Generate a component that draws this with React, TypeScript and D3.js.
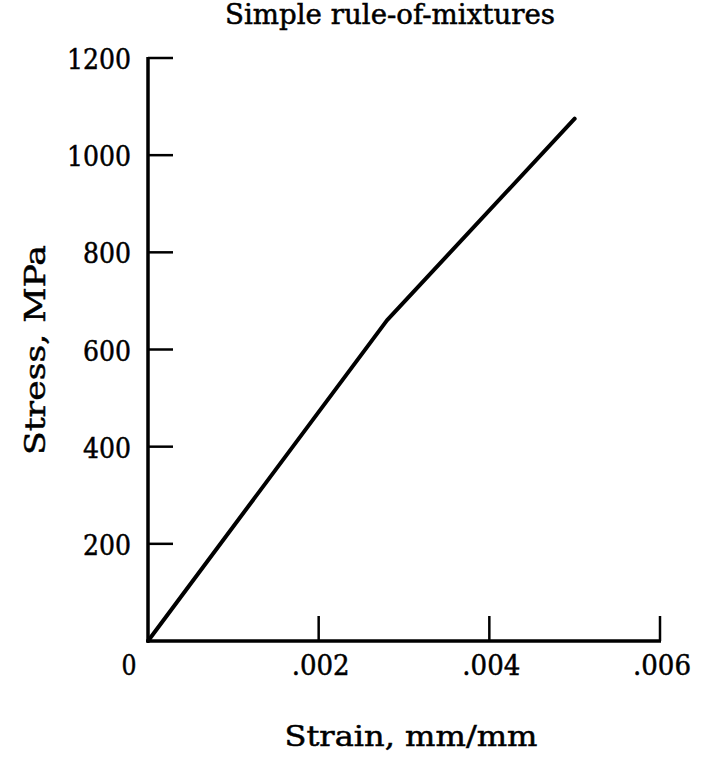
import React from "react";
import * as d3 from "d3";

const strain = [0, 0.0028, 0.005];
const stress = [0, 660, 1075];
const yTicks = [200, 400, 600, 800, 1000, 1200];
const xTicks = [0.002, 0.004, 0.006];
const xTickLabels = [".002", ".004", ".006"];
const title = "Simple rule-of-mixtures";
const xTitle = "Strain, mm/mm";
const yTitle = "Stress, MPa";

export default function App() {
  const W = 704, H = 757;
  const x = d3.scaleLinear().domain([0, 0.006]).range([148, 660]);
  const y = d3.scaleLinear().domain([0, 1200]).range([641, 58]);
  const pts: [number, number][] = strain.map((s, i) => [s, stress[i]]);
  const line = d3.line<[number, number]>().x(d => x(d[0])).y(d => y(d[1]));
  const font = "'DejaVu Serif', serif";
  const txt = { fontFamily: font, fill: "#000", stroke: "#000", strokeWidth: 0.5 } as any;
  return (
    <svg width={W} height={H} style={{ position: "absolute", left: 0, top: 0 }}>
      <rect width={W} height={H} fill="#fff" />
      <text x={390} y={24} fontSize={27} textAnchor="middle" textLength={330} lengthAdjust="spacingAndGlyphs" {...txt}>{title}</text>
      <line x1={x(0)} x2={x(0)} y1={y(1200) - 1} y2={y(0) + 1.5} stroke="#000" strokeWidth={3.5} />
      <line x1={x(0) - 1.5} x2={x(0.006) + 1} y1={y(0)} y2={y(0)} stroke="#000" strokeWidth={3.5} />
      {yTicks.map(t => {
        const s = String(t);
        return (
          <g key={t}>
            <line x1={x(0)} x2={x(0) + 25} y1={y(t)} y2={y(t)} stroke="#000" strokeWidth={2.5} />
            <text x={131} y={y(t) + 11} fontSize={28} textAnchor="end" textLength={s.length * 16} lengthAdjust="spacingAndGlyphs" {...txt}>{s}</text>
          </g>
        );
      })}
      {xTicks.map((t, i) => (
        <g key={t}>
          <line x1={x(t)} x2={x(t)} y1={y(0)} y2={y(0) - 25} stroke="#000" strokeWidth={2.5} />
          <text x={x(t) + 2} y={675} fontSize={28} textAnchor="middle" textLength={58} lengthAdjust="spacingAndGlyphs" {...txt}>{xTickLabels[i]}</text>
        </g>
      ))}
      <text x={129} y={675} fontSize={28} textAnchor="middle" textLength={15} lengthAdjust="spacingAndGlyphs" {...txt}>0</text>
      <text x={411} y={746} fontSize={28} textAnchor="middle" textLength={253} lengthAdjust="spacingAndGlyphs" {...txt}>{xTitle}</text>
      <text transform={`translate(45,350) rotate(-90)`} fontSize={28} textAnchor="middle" textLength={210} lengthAdjust="spacingAndGlyphs" {...txt}>{yTitle}</text>
      <path d={line(pts) || ""} fill="none" stroke="#000" strokeWidth={4} strokeLinecap="round" strokeLinejoin="round" />
    </svg>
  );
}
